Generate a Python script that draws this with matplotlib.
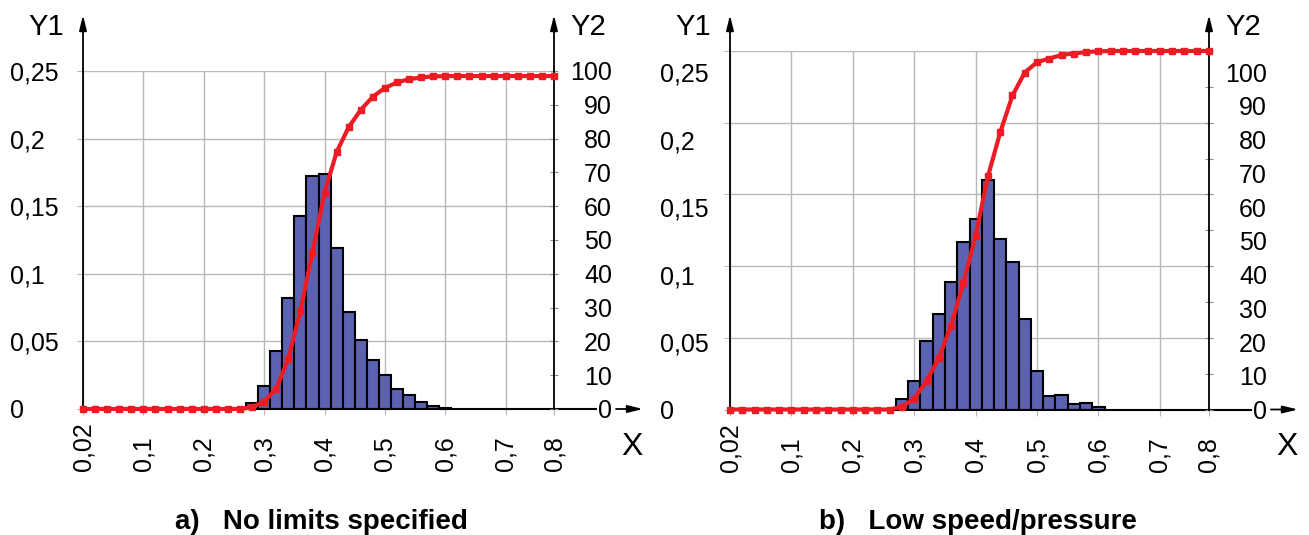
import matplotlib.pyplot as plt
import matplotlib.transforms as mtransforms
import numpy as np

plt.rcParams['font.family'] = ['Liberation Sans', 'DejaVu Sans']

W, H = 1309, 535

# X classes (bin centres, step 0.02) - category axis as in the source
x_bins = np.round(np.arange(40) * 0.02, 2)
x_ticks = [0.0, 0.1, 0.2, 0.3, 0.4, 0.5, 0.6, 0.7, 0.78]
x_tick_labels = ['0,02', '0,1', '0,2', '0,3', '0,4', '0,5', '0,6', '0,7', '0,8']
y1_ticks = [0, 0.05, 0.1, 0.15, 0.2, 0.25]
y1_tick_labels = ['0', '0,05', '0,1', '0,15', '0,2', '0,25']
y2_ticks = [0, 10, 20, 30, 40, 50, 60, 70, 80, 90, 100]
y2_tick_labels = ['0', '10', '20', '30', '40', '50', '60', '70', '80', '90', '100']

# histogram (Y1) - only non-empty classes
hist_x = [0.28, 0.30, 0.32, 0.34, 0.36, 0.38, 0.40, 0.42, 0.44,
          0.46, 0.48, 0.50, 0.52, 0.54, 0.56, 0.58, 0.60]
hist_a = [0.0047, 0.0167, 0.043, 0.082, 0.143, 0.172, 0.174, 0.119, 0.072,
          0.051, 0.0365, 0.0255, 0.0147, 0.0105, 0.005, 0.0022, 0.001]
hist_b = [0.0074, 0.0198, 0.048, 0.0668, 0.089, 0.117, 0.133, 0.160, 0.119,
          0.103, 0.063, 0.0267, 0.0097, 0.0104, 0.0037, 0.0046, 0.0014]

# cumulative curve (Y2, %) for all 40 classes
cdf_a = [0, 0, 0, 0, 0, 0, 0, 0, 0, 0, 0, 0, 0, 0,
         0.5, 2.2, 6.0, 14.8, 29.0, 46.3, 64.0, 76.0, 83.4, 88.5, 92.4,
         95.0, 96.6, 97.6, 98.1, 98.4, 98.5,
         98.5, 98.5, 98.5, 98.5, 98.5, 98.5, 98.5, 98.5, 98.5]
cdf_b = [0, 0, 0, 0, 0, 0, 0, 0, 0, 0, 0, 0, 0, 0,
         0.8, 3.0, 7.9, 14.3, 23.4, 35.2, 48.5, 65.0, 77.3, 87.6, 94.0,
         96.9, 97.9, 98.9, 99.3, 99.7, 99.9,
         100, 100, 100, 100, 100, 100, 100, 100, 100]

BAR = '#5b63b1'
RED = '#ed1c24'
GRID = '#b8b8b8'
ARROW = '-|>,head_length=0.9,head_width=0.22'


def draw_panel(fig, box, hist, cdf, caption, cap_x, lab_scale, lpad):
    """box = (left, top, right, bottom) in pixels"""
    x0, top, x1, bottom = box
    wpx, hpx = x1 - x0, bottom - top
    ax = fig.add_axes([x0 / W, (H - bottom) / H, wpx / W, hpx / H])
    ax2 = ax.twinx()
    ax.set_axisbelow(True)

    ax.bar(hist_x, hist, width=0.02, color=BAR, edgecolor='black',
           linewidth=1.5, zorder=2)
    ax2.plot(x_bins, cdf, color=RED, lw=3.0, marker='s', ms=4.6,
             clip_on=False, zorder=3)

    ax.set_xlim(0, 0.78)
    ax.set_ylim(0, 0.25)
    ax2.set_ylim(0, 100)

    # x axis
    ax.set_xticks(x_ticks, x_tick_labels, rotation=90, va='bottom', fontsize=18)
    ax.tick_params(axis='x', length=4.3, color=GRID, pad=40.5)

    # Y1: grid ticks + labels (labels sit on minor ticks)
    ax.set_yticks(y1_ticks, [])
    ax.tick_params(axis='y', which='major', length=4.3, color=GRID)
    ax.yaxis.remove_overlapping_locs = False
    ax.set_yticks([v * lab_scale for v in y1_ticks], y1_tick_labels,
                  minor=True, ha='left', fontsize=18)
    ax.tick_params(axis='y', which='minor', length=0, pad=lpad * 0.72)
    ax.grid(True, which='major', color=GRID, lw=1.0)

    # Y2
    ax2.set_yticks(y2_ticks, [])
    ax2.tick_params(axis='y', which='major', direction='inout', length=6,
                    color='#8c8c8c')
    ax2.yaxis.remove_overlapping_locs = False
    ax2.set_yticks([v * lab_scale for v in y2_ticks], y2_tick_labels,
                   minor=True, ha='right', fontsize=18)
    ax2.tick_params(axis='y', which='minor', length=0, pad=58 * 0.72)

    for s in ['top', 'right']:
        ax.spines[s].set_visible(False)
    for s in ['top', 'left', 'bottom']:
        ax2.spines[s].set_visible(False)
    ax.spines['left'].set_linewidth(1.3)
    ax.spines['bottom'].set_linewidth(1.5)
    ax2.spines['right'].set_linewidth(1.3)

    # axis arrows
    blend = mtransforms.blended_transform_factory(ax.transAxes, fig.transFigure)
    ytop = (H - top) / H
    ytip = (H - 15) / H
    aprops = dict(arrowstyle=ARROW, color='black', lw=1.3,
                  shrinkA=0, shrinkB=0, mutation_scale=10)
    for xa in (0, 1):
        ax.annotate('', xy=(xa, ytip), xycoords=blend, xytext=(xa, ytop),
                    textcoords=blend, arrowprops=aprops, annotation_clip=False)
    ax.plot([1, 1 + 42 / wpx], [0, 0], transform=ax.transAxes, color='black',
            lw=1.5, clip_on=False)
    ax.annotate('', xy=(1 + 89 / wpx, 0), xycoords='axes fraction',
                xytext=(1 + 62 / wpx, 0), textcoords='axes fraction',
                arrowprops=aprops, annotation_clip=False)

    ax.text(-37 / wpx, (H - 27) / H, 'Y1', transform=blend, fontsize=21,
            ha='center', va='center')
    ax.text(1 + 34 / wpx, (H - 27) / H, 'Y2', transform=blend, fontsize=21,
            ha='center', va='center')
    ax.text(1 + 78 / wpx, (H - 447) / H, 'X', transform=blend, fontsize=23,
            ha='center', va='center')

    fig.text(cap_x / W, (H - 522) / H, caption, fontsize=20, fontweight='bold',
             ha='center', va='center')
    return ax


fig = plt.figure(figsize=(W / 100, H / 100), dpi=100)
draw_panel(fig, (83, 71, 554, 409), hist_a, cdf_a,
           'a)   No limits specified', 321, 1.0, 73)
draw_panel(fig, (730, 51, 1209, 409.5), hist_b, cdf_b,
           'b)   Low speed/pressure', 978, 0.9414, 70)
fig.savefig('out.png', dpi=100)
